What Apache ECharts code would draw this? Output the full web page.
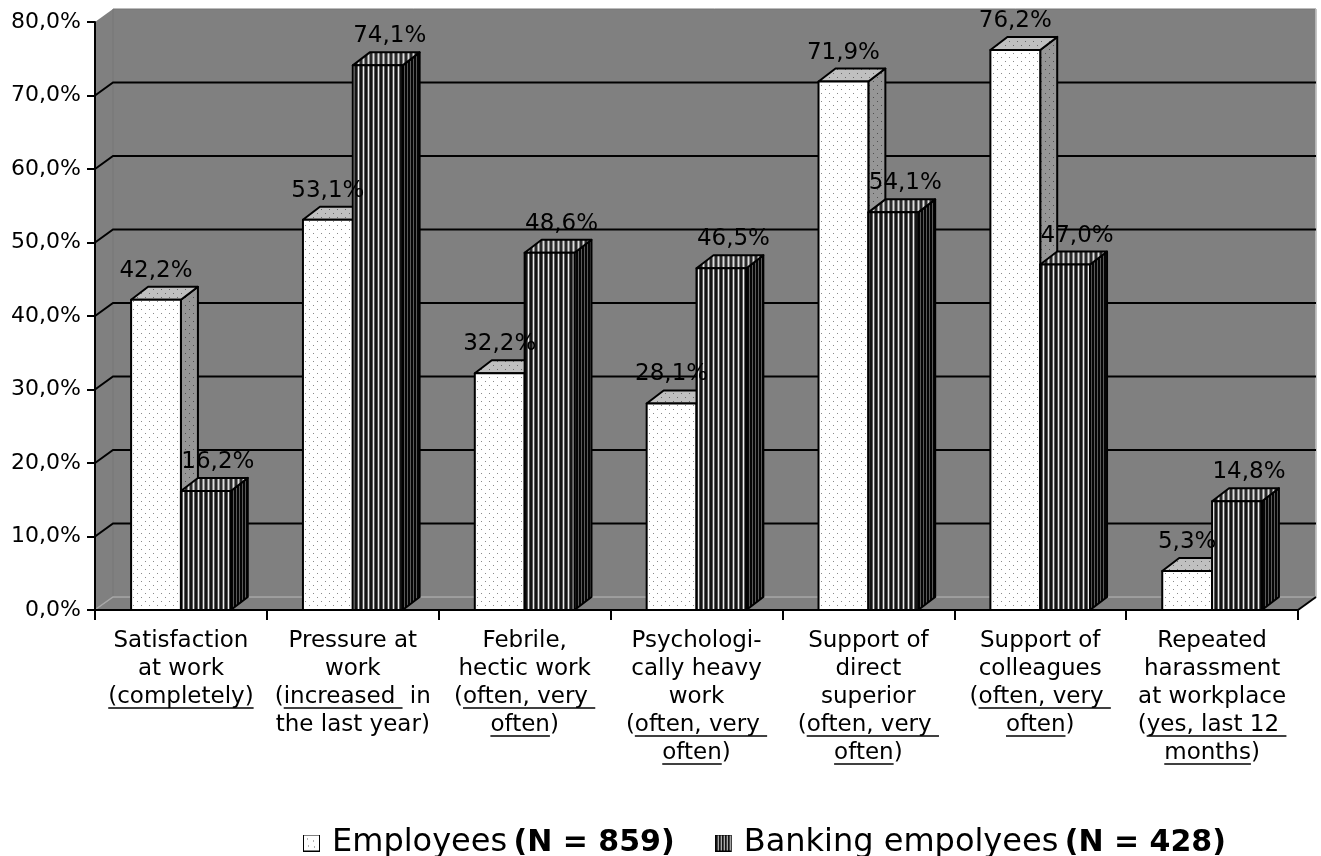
<!DOCTYPE html>
<html>
<head>
<meta charset="utf-8">
<title>Work conditions: employees vs banking employees</title>
<script src="https://cdn.jsdelivr.net/npm/echarts@6/dist/echarts.min.js"></script>
<style>
  html, body { margin: 0; padding: 0; background: #ffffff; }
  #chart { width: 1321px; height: 856px; }
</style>
</head>
<body>
<div id="chart"></div>
<script>
// ---- data ----------------------------------------------------------------
// Category labels; "{u|...}" marks underlined text.
const categories = [
  'Satisfaction\nat work\n{u|(completely)}',
  'Pressure at\nwork\n({u|increased } in\nthe last year)',
  'Febrile,\nhectic work\n({u|often, very }\n{u|often})',
  'Psychologi-\ncally heavy\nwork\n({u|often, very }\n{u|often})',
  'Support of\ndirect\nsuperior\n({u|often, very }\n{u|often})',
  'Support of\ncolleagues\n({u|often, very }\n{u|often})',
  'Repeated\nharassment\nat workplace\n({u|yes, last 12 }\n{u|months})'
];
const employees = [42.2, 53.1, 32.2, 28.1, 71.9, 76.2, 5.3];
const banking   = [16.2, 74.1, 48.6, 46.5, 54.1, 47.0, 14.8];
const seriesNames = ['Employees', 'Banking empolyees'];
const sampleSizes = [859, 428];
const yMin = 0, yMax = 80, yStep = 10;

// ---- look ----------------------------------------------------------------
const FONT_FAMILY = '"DejaVu Sans", Verdana, sans-serif';
const CAT_FONT = '23px ' + FONT_FAMILY;
const WALL_DX = 18, WALL_DY = -13;   // depth of the wall / floor
const BAR_DX = 17, BAR_DY = -13;     // depth of each bar
const WALL_GRAY = '#808080';

function pct(v) { return v.toFixed(1).replace('.', ',') + '%'; }

function makeTile(w, h, draw) {
  const c = document.createElement('canvas');
  c.width = w; c.height = h;
  draw(c.getContext('2d'), w, h);
  return c;
}
function dots(bg, dot) {
  return makeTile(8, 8, (ctx) => {
    ctx.fillStyle = bg; ctx.fillRect(0, 0, 8, 8);
    ctx.fillStyle = dot;
    ctx.fillRect(1, 1, 1, 1);
    ctx.fillRect(5, 5, 1, 1);
  });
}
function stripes(cols) {
  return makeTile(cols.length, 4, (ctx) => {
    cols.forEach((c, i) => { ctx.fillStyle = c; ctx.fillRect(i, 0, 1, 4); });
  });
}
const pattern = (c) => ({ image: c, repeat: 'repeat' });

const faceSets = [
  { // Employees: white dotted
    front: pattern(dots('#ffffff', '#8a8a8a')),
    top:   pattern(dots('#c0c0c0', '#6a6a6a')),
    side:  pattern(dots('#969696', '#505050'))
  },
  { // Banking employees: dark vertical stripes
    front: pattern(stripes(['#141414', '#141414', '#5a5a5a', '#eeeeee', '#5a5a5a'])),
    top:   pattern(stripes(['#2a2a2a', '#2a2a2a', '#808080', '#dddddd', '#808080'])),
    side:  pattern(stripes(['#050505', '#050505', '#5a5a5a']))
  }
];

// legend swatches (box on the left, transparent padding on the right)
function legendIcon(k) {
  const c = makeTile(24, 17, (ctx) => {
    if (k === 0) {
      ctx.fillStyle = '#ffffff'; ctx.fillRect(1, 1, 15, 15);
      ctx.fillStyle = '#666666';
      [[4, 4], [10, 6], [5, 11], [11, 12]].forEach(p => ctx.fillRect(p[0], p[1], 1, 1));
    } else {
      ctx.fillStyle = '#141414'; ctx.fillRect(1, 1, 15, 15);
      ctx.fillStyle = '#dddddd';
      for (let x = 3; x < 16; x += 3) ctx.fillRect(x, 1, 1, 15);
    }
    ctx.strokeStyle = '#000000'; ctx.lineWidth = 1;
    ctx.strokeRect(0.5, 0.5, 16, 16);
  });
  return 'image://' + c.toDataURL();
}

// ---- renderers -----------------------------------------------------------
function renderWall(params, api) {
  const cs = params.coordSys;
  const L = cs.x, R = cs.x + cs.width, T = cs.y, B = cs.y + cs.height;
  const dx = WALL_DX, dy = WALL_DY;
  const children = [
    { type: 'polygon', shape: { points: [[L, T], [L + dx, T + dy], [L + dx, B + dy], [L, B]] },
      style: { fill: WALL_GRAY } },
    { type: 'rect', shape: { x: L + dx, y: T + dy, width: R - L, height: B - T },
      style: { fill: WALL_GRAY, stroke: '#777777', lineWidth: 1 } },
    { type: 'line', shape: { x1: R + dx, y1: T + dy, x2: R + dx, y2: B + dy },
      style: { stroke: '#c8c8c8', lineWidth: 1.5 } },
    { type: 'polygon', shape: { points: [[L, B], [R, B], [R + dx, B + dy], [L + dx, B + dy]] },
      style: { fill: WALL_GRAY } },
    { type: 'polyline', shape: { points: [[L + 1, B - 1], [L + dx, B + dy], [R + dx, B + dy]] },
      style: { stroke: '#a8a8a8', lineWidth: 1.5, fill: null } },
    { type: 'line', shape: { x1: R, y1: B, x2: R + dx, y2: B + dy },
      style: { stroke: '#000000', lineWidth: 2 } }
  ];
  for (let v = yMin + yStep; v < yMax; v += yStep) {
    const y = api.coord([0, v])[1];
    children.push({
      type: 'polyline',
      shape: { points: [[L, y], [L + dx, y + dy], [R + dx, y + dy]] },
      style: { stroke: '#000000', lineWidth: 2, fill: null }
    });
  }
  return { type: 'group', children };
}

function barRenderer(k, labelDx) {
  const faces = faceSets[k];
  return function (params, api) {
    const i = api.value(0), v = api.value(1);
    const base = api.coord([i, 0]);
    const top = api.coord([i, v]);
    const band = api.size([1, 0])[0];
    const w = band * 0.29;
    const x0 = k === 0 ? base[0] - w : base[0];
    const x1 = x0 + w;
    const yb = base[1], yt = top[1];
    const edge = { stroke: '#000000', lineWidth: 2, lineJoin: 'round' };
    const z = 10 + k * 10;
    return {
      type: 'group',
      children: [
        { type: 'polygon', z2: z,
          shape: { points: [[x1, yt], [x1 + BAR_DX, yt + BAR_DY], [x1 + BAR_DX, yb + BAR_DY], [x1, yb]] },
          style: Object.assign({ fill: faces.side }, edge) },
        { type: 'polygon', z2: z,
          shape: { points: [[x0, yt], [x1, yt], [x1 + BAR_DX, yt + BAR_DY], [x0 + BAR_DX, yt + BAR_DY]] },
          style: Object.assign({ fill: faces.top }, edge) },
        { type: 'rect', z2: z,
          shape: { x: x0, y: yt, width: w, height: yb - yt },
          style: Object.assign({ fill: faces.front }, edge) },
        { type: 'text', z2: 100, x: x0 + w / 2 + labelDx, y: yt - 29,
          style: { text: pct(v), font: CAT_FONT, fill: '#000000',
                   align: 'center', verticalAlign: 'middle',
                   textAlign: 'center', textVerticalAlign: 'middle' } }
      ]
    };
  };
}

const measureCtx = document.createElement('canvas').getContext('2d');
function splitMarkup(line) {
  const parts = [];
  const re = /\{u\|([^}]*)\}/g;
  let last = 0, m;
  while ((m = re.exec(line)) !== null) {
    if (m.index > last) parts.push({ text: line.slice(last, m.index), u: false });
    parts.push({ text: m[1], u: true });
    last = re.lastIndex;
  }
  if (last < line.length) parts.push({ text: line.slice(last), u: false });
  return parts;
}
function renderCategory(params, api) {
  const i = api.value(0);
  const p = api.coord([i, 0]);
  const cx = p[0];
  const children = [];
  measureCtx.font = CAT_FONT;
  categories[i].split('\n').forEach((line, n) => {
    const y = p[1] + 31 + n * 28;
    const parts = splitMarkup(line);
    const plain = parts.map(s => s.text).join('');
    const total = measureCtx.measureText(plain).width;
    children.push({
      type: 'text', x: cx, y: y,
      style: { text: plain, font: CAT_FONT, fill: '#000000',
               align: 'center', verticalAlign: 'middle',
               textAlign: 'center', textVerticalAlign: 'middle' }
    });
    let x = cx - total / 2;
    parts.forEach(s => {
      const w = measureCtx.measureText(s.text).width;
      if (s.u) {
        children.push({ type: 'line', shape: { x1: x, y1: y + 11, x2: x + w, y2: y + 11 },
                        style: { stroke: '#000000', lineWidth: 1.6 } });
      }
      x += w;
    });
  });
  return { type: 'group', children };
}

// ---- chart ---------------------------------------------------------------
const chart = echarts.init(document.getElementById('chart'), null, { renderer: 'canvas' });
chart.setOption({
  animation: false,
  backgroundColor: '#ffffff',
  grid: { left: 95, right: 23, top: 22, bottom: 246, containLabel: false },
  xAxis: {
    type: 'category',
    data: categories,
    boundaryGap: true,
    axisLine: { show: true, lineStyle: { color: '#000000', width: 2 } },
    axisTick: { show: true, length: 10, lineStyle: { color: '#000000', width: 2 } },
    axisLabel: { show: false },
    splitLine: { show: false }
  },
  yAxis: {
    type: 'value',
    min: yMin, max: yMax, interval: yStep,
    axisLine: { show: true, lineStyle: { color: '#000000', width: 2 } },
    axisTick: { show: true, inside: false, length: 8, lineStyle: { color: '#000000', width: 2 } },
    axisLabel: { formatter: pct, color: '#000000', fontFamily: FONT_FAMILY, fontSize: 22, margin: 14 },
    splitLine: { show: false }
  },
  legend: {
    left: 298, top: 822,
    itemWidth: 24, itemHeight: 17, itemGap: 40,
    selectedMode: false,
    data: seriesNames.map((n, k) => ({ name: n, icon: legendIcon(k) })),
    formatter: (name) => {
      const k = seriesNames.indexOf(name);
      return '{n|' + name + '}{s| }{b|(N = ' + sampleSizes[k] + ')}';
    },
    textStyle: {
      rich: {
        n: { fontFamily: FONT_FAMILY, fontSize: 32, color: '#000000' },
        s: { fontFamily: FONT_FAMILY, fontSize: 20, color: '#000000' },
        b: { fontFamily: FONT_FAMILY, fontSize: 30, fontWeight: 'bold', color: '#000000' }
      }
    }
  },
  series: [
    { type: 'custom', name: 'wall', z: -1, silent: true,
      renderItem: renderWall, data: [[0, 0]] },
    { type: 'custom', name: seriesNames[0], renderItem: barRenderer(0, 0),
      data: employees.map((v, i) => [i, v]) },
    { type: 'custom', name: seriesNames[1], renderItem: barRenderer(1, 12),
      data: banking.map((v, i) => [i, v]) },
    { type: 'custom', name: 'categoryLabels', silent: true, renderItem: renderCategory,
      data: categories.map((c, i) => [i, 0]) }
  ]
});
</script>
</body>
</html>
